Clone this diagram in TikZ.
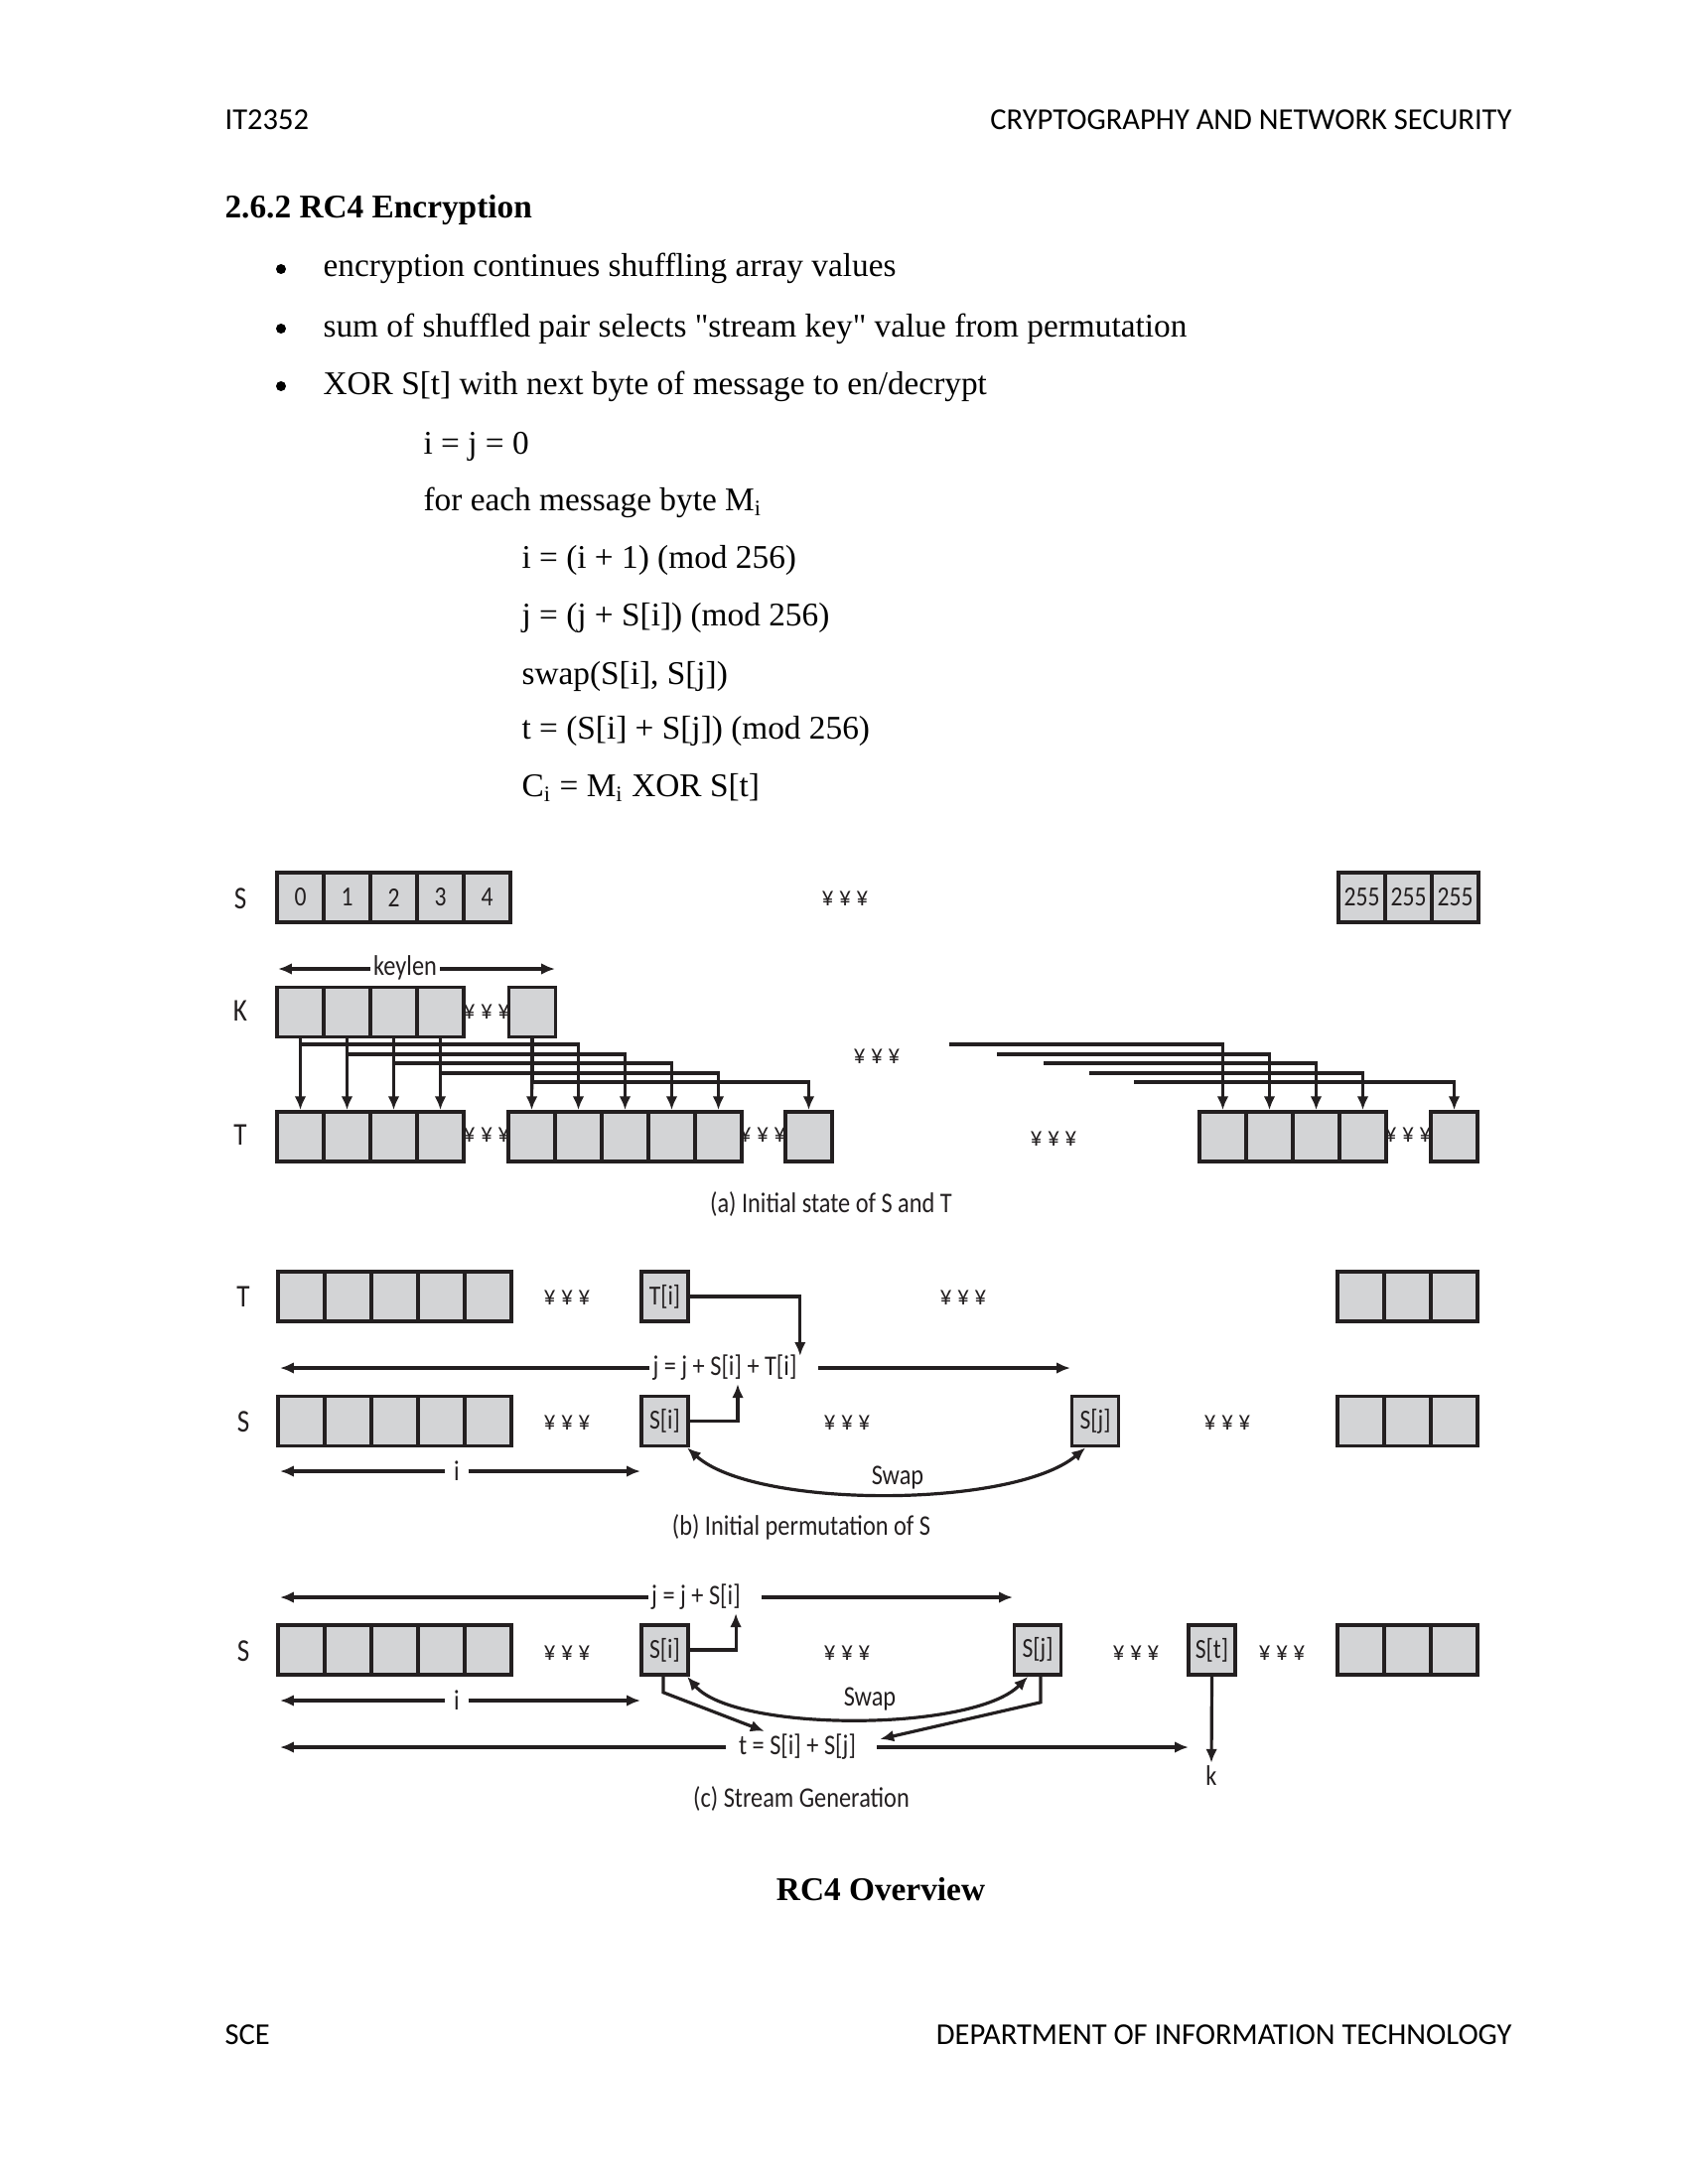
\documentclass[tikz,border=0pt]{standalone}
\usepackage{fontspec}
\setmainfont{Liberation Serif}
\newfontfamily\hdrfont{Carlito}
\newfontfamily\dgmfont[FakeStretch=0.85]{Carlito}
\newcommand\straightquote{\XeTeXglyph\XeTeXcharglyph"22\relax}
\usetikzlibrary{arrows.meta,calc}
\definecolor{ink}{RGB}{35,31,32}
\definecolor{cellfill}{RGB}{211,212,214}
\begin{document}
\begin{tikzpicture}[x=0.36pt,y=-0.36pt,
  cell/.style={draw=ink,fill=cellfill,line width=1.3pt,minimum width=16.92pt,minimum height=18pt,inner sep=0pt,font=\dgmfont\fontsize{10}{11}\selectfont,text=ink},
  lab/.style={font=\dgmfont\fontsize{11.5}{12}\selectfont,text=ink,inner sep=1pt},
  dots/.style={font=\dgmfont\fontsize{10}{11}\selectfont,text=ink,inner sep=0pt},
  captxt/.style={font=\dgmfont\fontsize{10.3}{11}\selectfont,text=ink},
  eq/.style={font=\dgmfont\fontsize{10.3}{11}\selectfont,text=ink,inner sep=1pt},
  conn/.style={draw=ink,line width=1.15pt},
  arr/.style={conn,-{Latex[length=5pt,width=4.2pt]}},
  darr/.style={conn,{Latex[length=5pt,width=4.2pt]}-{Latex[length=5pt,width=4.2pt]}},
  body/.style={font=\fontsize{12}{14}\selectfont,inner sep=0pt,anchor=base west},
  hdr/.style={font=\hdrfont\fontsize{11}{13}\selectfont,inner sep=0pt},
  bul/.style={circle,fill=black,inner sep=0pt,minimum size=3.6pt},
]
\fill[white] (0,0) rectangle (1700,2200);
\useasboundingbox (0,0) rectangle (1700,2200);

% ---------- page text ----------
\node[hdr,anchor=base west] (hl) at (226,131) {IT2352};
\node[hdr,anchor=base east] (hr) at (1523,131) {CRYPTOGRAPHY AND NETWORK SECURITY};
\node[body,font=\fontsize{12}{14}\selectfont\bfseries] (head) at (226,220) {2.6.2 RC4 Encryption};
\node[bul] (bu1) at (283,271) {};
\node[body] (t1) at (325,279) {encryption continues shuffling array values};
\node[bul] (bu2) at (283,331) {};
\node[body] (t2) at (325,339) {sum of shuffled pair selects \straightquote stream key\straightquote\ value from permutation};
\node[bul] (bu3) at (283,389) {};
\node[body] (t3) at (325,397) {XOR S[t] with next byte of message to en/decrypt};
\node[body] (a1) at (426,457) {i = j = 0};
\node[body] (a2) at (426,514) {for each message byte M\textsubscript{i}};
\node[body] (a3) at (525,572) {i = (i + 1) (mod 256)};
\node[body] (a4) at (525,630) {j = (j + S[i]) (mod 256)};
\node[body] (a5) at (525,689) {swap(S[i], S[j])};
\node[body] (a6) at (525,744) {t = (S[i] + S[j]) (mod 256)};
\node[body] (a7) at (525,802) {C\textsubscript{i} = M\textsubscript{i} XOR S[t]};
\node[font=\fontsize{12}{14}\selectfont\bfseries,inner sep=0pt,anchor=base] (ov) at (887,1914) {RC4 Overview};
\node[hdr,anchor=base west] (fl) at (226,2059) {SCE};
\node[hdr,anchor=base east] (fr) at (1523,2059) {DEPARTMENT OF INFORMATION TECHNOLOGY};

% ---------- (a) ----------
\node[lab] (aSlab) at (242,905) {S};
\foreach \n in {0,...,4} \node[cell] (aS\n) at ({302.5+47*\n},904) {\n};
\node[dots] (aSdots) at (851,905) {¥ ¥ ¥};
\foreach \n in {0,1,2} \node[cell] (aSE\n) at ({1371.5+47*\n},904) {255};

\node[eq] (kl) at (408,975) {keylen};
\coordinate (klL) at (280,976);
\coordinate (klR) at (559,976);
\draw[arr] (kl.west |- klL) -- (klL);
\draw[arr] (kl.east |- klR) -- (klR);

\node[lab] (aKlab) at (242,1018) {K};
\foreach \n in {0,...,3} \node[cell] (K\n) at ({302.5+47*\n},1019.5) {};
\node[dots] (aKdots) at (490,1019) {¥ ¥ ¥};
\node[cell] (KL) at (536,1019.5) {};

\node[lab] (aTlab) at (242,1143) {T};
\foreach \n in {0,...,3} \node[cell] (TA\n) at ({302.5+47*\n},1145) {};
\node[dots] (aTd1) at (490,1143) {¥ ¥ ¥};
\foreach \n in {0,...,4} \node[cell] (TB\n) at ({535.5+47*\n},1145) {};
\node[dots] (aTd2) at (768,1143) {¥ ¥ ¥};
\node[cell] (TC) at (814.5,1145) {};
\node[dots] (aTd3) at (1061,1147) {¥ ¥ ¥};
\foreach \n in {0,...,3} \node[cell] (TD\n) at ({1231.5+47*\n},1145) {};
\node[dots] (aTd4) at (1418,1143) {¥ ¥ ¥};
\node[cell] (TE) at (1464.5,1145) {};
\node[dots] (aMd) at (883,1064) {¥ ¥ ¥};

\foreach \n in {0,...,3} \draw[arr] (K\n.south) -- (TA\n.north);
\draw[arr] (KL.south) -- (TB0.north);
\draw[arr] (K0.south) |- (TB1.north |- 0,1052) -- (TB1.north);
\draw[arr] (K1.south) |- (TB2.north |- 0,1062) -- (TB2.north);
\draw[arr] (K2.south) |- (TB3.north |- 0,1071) -- (TB3.north);
\draw[arr] (K3.south) |- (TB4.north |- 0,1081) -- (TB4.north);
\draw[arr] (KL.south) |- (TC.north |- 0,1090) -- (TC.north);

\coordinate (r0) at (956,1052);
\coordinate (r1) at (1004,1062);
\coordinate (r2) at (1051,1071);
\coordinate (r3) at (1097,1081);
\coordinate (r4) at (1142,1090);
\draw[arr] (r0) -| (TD0.north);
\draw[arr] (r1) -| (TD1.north);
\draw[arr] (r2) -| (TD2.north);
\draw[arr] (r3) -| (TD3.north);
\draw[arr] (r4) -| (TE.north);

\node[captxt] (capa) at (837,1213) {(a) Initial state of S and T};

% ---------- (b) ----------
\node[lab] (bTlab) at (245,1306) {T};
\foreach \n in {0,...,4} \node[cell] (bT\n) at ({303.5+47*\n},1306) {};
\node[dots] (bTd1) at (571,1307) {¥ ¥ ¥};
\node[cell] (bTi) at (669.5,1306) {T[i]};
\node[dots] (bTd2) at (970,1307) {¥ ¥ ¥};
\foreach \n in {0,1,2} \node[cell] (bTE\n) at ({1370.5+47*\n},1306) {};

\node[eq] (bj) at (730,1378) {j = j + S[i] + T[i]};
\coordinate (bjL) at (282,1378);
\coordinate (bjR) at (1078,1378);
\draw[arr] (bj.west) -- (bjL);
\draw[arr] ($(bj.east)+(18,0)$) -- (bjR);
\draw[arr] (bTi.east) -| ($(bj.north east)+(0,4)$);

\node[lab] (bSlab) at (245,1432) {S};
\foreach \n in {0,...,4} \node[cell] (bS\n) at ({303.5+47*\n},1431.5) {};
\node[dots] (bSd1) at (571,1433) {¥ ¥ ¥};
\node[cell] (bSi) at (669.5,1431.5) {S[i]};
\node[dots] (bSd2) at (853,1433) {¥ ¥ ¥};
\node[cell] (bSj) at (1103,1431.5) {S[j]};
\node[dots] (bSd3) at (1236,1433) {¥ ¥ ¥};
\foreach \n in {0,1,2} \node[cell] (bSE\n) at ({1370.5+47*\n},1431.5) {};
\draw[arr] (bSi.east) -| ($(bj.south)+(13,0)$);

\node[eq,inner xsep=3pt] (bi) at (460,1482) {i};
\coordinate (biL) at (282,1482);
\coordinate (biR) at (645,1482);
\draw[arr] (bi.west) -- (biL);
\draw[arr] (bi.east) -- (biR);

\draw[darr] (bSi.310) .. controls (760,1520) and (1020,1520) .. (bSj.250);
\node[eq] (bsw) at (904,1489) {Swap};
\node[captxt] (capb) at (807,1538) {(b) Initial permutation of S};

% ---------- (c) ----------
\node[eq] (cj) at (701,1609) {j = j + S[i]};
\coordinate (cjL) at (282,1609);
\coordinate (cjR) at (1020,1609);
\draw[arr] (cj.west) -- (cjL);
\draw[arr] ($(cj.east)+(18,0)$) -- (cjR);

\node[lab] (cSlab) at (245,1663) {S};
\foreach \n in {0,...,4} \node[cell] (cS\n) at ({303.5+47*\n},1662) {};
\node[dots] (cSd1) at (571,1665) {¥ ¥ ¥};
\node[cell] (cSi) at (669.5,1662) {S[i]};
\node[dots] (cSd2) at (853,1665) {¥ ¥ ¥};
\node[cell] (cSj) at (1045,1662) {S[j]};
\node[dots] (cSd3) at (1144,1665) {¥ ¥ ¥};
\node[cell] (cSt) at (1220.5,1662) {S[t]};
\node[dots] (cSd4) at (1291,1665) {¥ ¥ ¥};
\foreach \n in {0,1,2} \node[cell] (cSE\n) at ({1370.5+47*\n},1662) {};
\draw[arr] (cSi.east) -| ($(cj.south east)+(-8,0)$);

\node[eq,inner xsep=3pt] (ci) at (460,1713) {i};
\coordinate (ciL) at (282,1713);
\coordinate (ciR) at (645,1713);
\draw[arr] (ci.west) -- (ciL);
\draw[arr] (ci.east) -- (ciR);

\draw[darr] (cSi.310) .. controls (740,1745) and (980,1745) .. (cSj.250);
\node[eq] (csw) at (876,1711) {Swap};

\node[eq] (ct) at (803,1760) {t = S[i] + S[j]};
\coordinate (ctL) at (282,1760);
\coordinate (ctR) at (1197,1760);
\draw[arr] ($(ct.west)+(-10,0)$) -- (ctL);
\draw[arr] ($(ct.east)+(18,0)$) -- (ctR);
\draw[arr] ($(cSi.south)+(-1.5,0)$) -- ++(0,16) -- ($(ct.north west)+(29,0)$);
\draw[arr] ($(cSj.south)+(3,0)$) -- ++(0,26) -- ($(ct.north east)+(21,8)$);

\node[eq] (kk) at (1220,1789) {k};
\draw[arr] (cSt.south) -- (kk.north);
\node[captxt] (capc) at (807,1812) {(c) Stream Generation};
\end{tikzpicture}
\end{document}
